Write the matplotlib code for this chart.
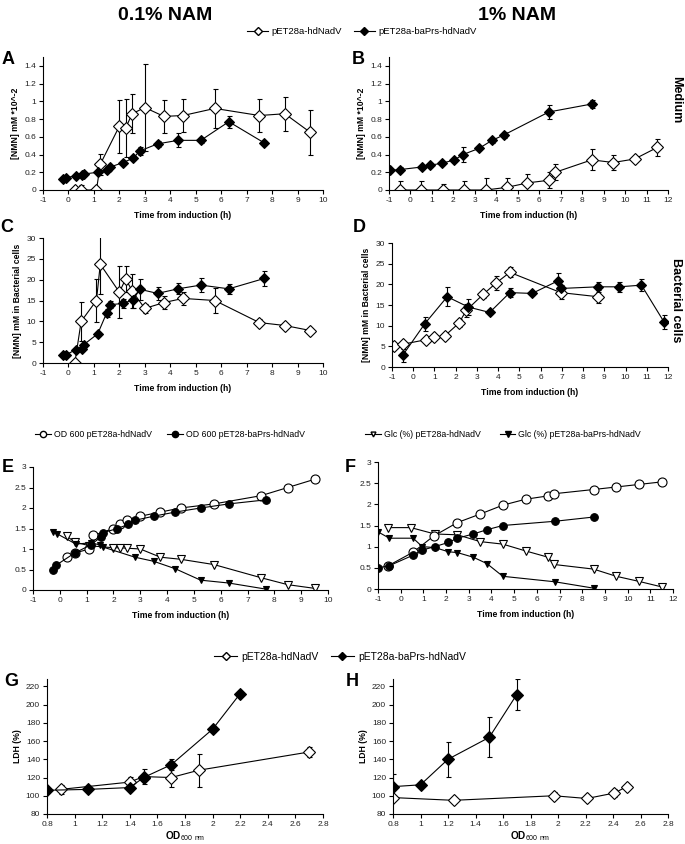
import matplotlib
matplotlib.use("Agg")
import matplotlib.pyplot as plt
from matplotlib.lines import Line2D
from matplotlib.ticker import FuncFormatter, MultipleLocator

plt.rcParams['font.family'] = ['Liberation Sans', 'DejaVu Sans']
plt.rcParams['mathtext.fontset'] = 'custom'
plt.rcParams['mathtext.rm'] = 'Liberation Sans'
plt.rcParams['mathtext.bf'] = 'Liberation Sans:bold'

# ---------------- data ----------------
# Panel A (0.1% NAM, medium)
A_open_x = [0.25, 0.5, 1.1, 1.25, 2.0, 2.25, 2.5, 3.0, 3.75, 4.5, 5.75, 7.5, 8.5, 9.5]
A_open_y = [0, 0, 0, 0.29, 0.72, 0.70, 0.86, 0.93, 0.83, 0.84, 0.92, 0.84, 0.86, 0.65]
A_open_e = [0, 0.06, 0, 0.12, 0.30, 0.33, 0.22, 0.49, 0.19, 0.19, 0.22, 0.19, 0.19, 0.25]
A_fill_x = [-0.2, -0.1, 0.3, 0.55, 0.6, 1.15, 1.5, 1.65, 2.15, 2.55, 2.8, 3.5, 4.3, 5.2, 6.3, 7.7]
A_fill_y = [0.12, 0.14, 0.16, 0.17, 0.18, 0.20, 0.23, 0.26, 0.31, 0.36, 0.44, 0.52, 0.56, 0.56, 0.77, 0.53]
A_fill_e = [0.01, 0.01, 0.01, 0.01, 0.02, 0.03, 0.02, 0.02, 0.02, 0.02, 0.04, 0.03, 0.08, 0.03, 0.07, 0.02]

# Panel B (1% NAM, medium)
B_open_x = [-0.5, 0.5, 1.5, 2.5, 3.5, 4.5, 5.45, 6.45, 6.75, 8.45, 9.45, 10.45, 11.5]
B_open_y = [0, 0, 0, 0, 0, 0.03, 0.08, 0.11, 0.20, 0.34, 0.31, 0.35, 0.48]
B_open_e = [0.1, 0.1, 0.07, 0.1, 0.13, 0.1, 0.1, 0.09, 0.09, 0.12, 0.09, 0.03, 0.1]
B_fill_x = [-0.95, -0.5, 0.55, 0.9, 1.45, 2.05, 2.45, 3.2, 3.8, 4.35, 6.45, 8.45]
B_fill_y = [0.22, 0.23, 0.26, 0.28, 0.30, 0.34, 0.40, 0.47, 0.56, 0.62, 0.88, 0.97]
B_fill_e = [0.02, 0.03, 0.02, 0.02, 0.02, 0.02, 0.08, 0.02, 0.03, 0.03, 0.08, 0.05]

# Panel C (0.1% NAM, bacterial cells)
C_open_x = [0.25, 0.5, 1.1, 1.25, 2.0, 2.25, 2.5, 3.0, 3.75, 4.5, 5.75, 7.5, 8.5, 9.5]
C_open_y = [0, 10, 15, 23.7, 17, 20.2, 17.3, 13.1, 14.5, 15.5, 15, 9.7, 9, 7.8]
C_open_e = [0, 4.6, 5.2, 7.2, 6.3, 3.1, 4, 1, 1.6, 1.5, 3, 0.8, 0.5, 0.5]
C_fill_x = [-0.2, -0.1, 0.3, 0.55, 0.6, 1.15, 1.5, 1.65, 2.15, 2.55, 2.8, 3.5, 4.3, 5.2, 6.3, 7.7]
C_fill_y = [2, 2, 3.2, 3.4, 4.4, 7, 12, 14, 14.3, 15.2, 17.7, 16.7, 17.8, 18.7, 17.8, 20.3]
C_fill_e = [0.3, 0.3, 0.3, 0.4, 0.5, 0.5, 1, 0.8, 1, 2, 2.5, 1.5, 1.3, 1.6, 1.2, 1.8]

# Panel D (1% NAM, bacterial cells)
D_open_x = [-0.9, -0.5, 0.6, 1.0, 1.5, 2.15, 2.5, 3.3, 3.9, 4.55, 6.95, 8.7]
D_open_y = [5, 5.5, 6.6, 7.2, 7.6, 10.6, 13.7, 17.6, 20.3, 22.9, 18, 17]
D_open_e = [0.3, 0.5, 0.3, 0.3, 0.3, 1.0, 1.5, 0.8, 1.6, 1.2, 1.5, 1.6]
D_fill_x = [-0.5, 0.55, 1.6, 2.6, 3.6, 4.55, 5.6, 6.8, 6.95, 8.7, 9.7, 10.75, 11.8]
D_fill_y = [2.8, 10.5, 17, 14.5, 13.2, 18, 17.8, 20.8, 19, 19.4, 19.4, 19.8, 11]
D_fill_e = [1.6, 1.7, 2.3, 2, 0.3, 1, 0.3, 2, 0.8, 1.2, 1.2, 1.4, 1.7]

# Panel E (0.1% NAM growth / glucose)
E_od_open_x = [0.25, 0.55, 1.1, 1.25, 2.0, 2.25, 2.5, 3.0, 3.75, 4.5, 5.75, 7.5, 8.5, 9.5]
E_od_open_y = [0.8, 0.9, 1.0, 1.33, 1.5, 1.6, 1.7, 1.8, 1.9, 2.0, 2.1, 2.3, 2.5, 2.7]
E_od_fill_x = [-0.25, -0.15, 0.55, 1.15, 1.55, 1.62, 2.15, 2.55, 2.8, 3.5, 4.3, 5.25, 6.3, 7.7]
E_od_fill_y = [0.5, 0.6, 0.9, 1.1, 1.3, 1.4, 1.5, 1.6, 1.7, 1.8, 1.9, 2.0, 2.1, 2.2]
E_glc_open_x = [0.25, 0.55, 1.1, 2.0, 2.25, 2.5, 3.0, 3.75, 4.5, 5.75, 7.5, 8.5, 9.5]
E_glc_open_y = [1.32, 1.17, 1.08, 1.03, 1.03, 1.02, 1.0, 0.8, 0.75, 0.62, 0.3, 0.13, 0.04]
E_glc_fill_x = [-0.25, -0.1, 0.6, 1.15, 1.5, 1.6, 2.8, 3.5, 4.3, 5.25, 6.3, 7.7]
E_glc_fill_y = [1.42, 1.37, 1.12, 1.15, 1.1, 1.05, 0.8, 0.7, 0.52, 0.24, 0.17, 0.02]

# Panel F (1% NAM growth / glucose)
F_od_open_x = [-0.55, 0.55, 1.45, 2.5, 3.5, 4.5, 5.5, 6.5, 6.75, 8.5, 9.5, 10.5, 11.5]
F_od_open_y = [0.55, 0.87, 1.25, 1.57, 1.77, 1.98, 2.12, 2.2, 2.25, 2.35, 2.41, 2.47, 2.53]
F_od_fill_x = [-1.0, -0.5, 0.55, 0.95, 1.5, 2.1, 2.5, 3.2, 3.8, 4.5, 6.8, 8.5]
F_od_fill_y = [0.5, 0.55, 0.8, 0.92, 1.0, 1.1, 1.2, 1.3, 1.4, 1.5, 1.6, 1.7]
F_glc_open_x = [-0.55, 0.45, 1.5, 2.5, 3.5, 4.5, 5.5, 6.5, 6.75, 8.5, 9.5, 10.5, 11.5]
F_glc_open_y = [1.45, 1.45, 1.3, 1.28, 1.12, 1.06, 0.9, 0.75, 0.58, 0.47, 0.3, 0.18, 0.05]
F_glc_fill_x = [-1.0, -0.5, 0.55, 0.95, 1.5, 2.1, 2.5, 3.2, 3.8, 4.5, 6.8, 8.5]
F_glc_fill_y = [1.35, 1.2, 1.2, 1.0, 0.98, 0.88, 0.86, 0.75, 0.6, 0.3, 0.17, 0.02]

# Panel G (0.1% NAM, LDH)
G_open_x = [0.9, 1.4, 1.5, 1.7, 1.9, 2.7]
G_open_y = [107, 115, 121, 120, 128, 148]
G_open_e = [5, 6, 8, 10, 18, 6]
G_fill_x = [0.8, 1.1, 1.4, 1.5, 1.7, 2.0, 2.2]
G_fill_y = [106, 107, 109, 120, 134, 173, 212]
G_fill_e = [3, 2, 2, 2, 6, 3, 2]

# Panel H (1% NAM, LDH)
H_open_x = [0.8, 1.24, 1.97, 2.21, 2.41, 2.5]
H_open_y = [98, 95, 100, 97, 103, 110]
H_open_e = [2, 2, 4, 2, 4, 2]
H_fill_x = [0.8, 1.0, 1.2, 1.5, 1.7]
H_fill_y = [110, 112, 140, 164, 211]
H_fill_e = [14, 2, 19, 22, 17]

label_open = 'pET28a-hdNadV'
label_fill = 'pET28a-baPrs-hdNadV'
time_label = 'Time from induction (h)'

# ---------------- figure ----------------
W, H = 685, 844
fig = plt.figure(figsize=(W / 100, H / 100), dpi=100)


def add_ax(l, r, t, b):
    return fig.add_axes([l / W, 1 - b / H, (r - l) / W, (b - t) / H])


fmt = FuncFormatter(lambda v, p: '%g' % round(v, 3))
TICK_FS = 6
LAB_FS = 6.2


def style(ax, xlim, ylim, xstep, ystep, ymax_tick=None):
    ax.set_xlim(*xlim)
    ax.set_ylim(*ylim)
    ax.xaxis.set_major_locator(MultipleLocator(xstep))
    ax.yaxis.set_major_locator(MultipleLocator(ystep))
    ax.xaxis.set_major_formatter(fmt)
    ax.yaxis.set_major_formatter(fmt)
    for s in ['top', 'right']:
        ax.spines[s].set_visible(False)
    for s in ['left', 'bottom']:
        ax.spines[s].set_linewidth(0.8)
    ax.tick_params(direction='out', length=3, width=0.8, labelsize=TICK_FS,
                   pad=2, labelcolor='#222222')
    if ymax_tick is not None:
        ticks = [t for t in ax.get_yticks() if t <= ymax_tick + 1e-9 and t >= ylim[0] - 1e-9]
        ax.set_yticks(ticks)


def series(ax, x, y, e, filled, ms):
    kw = dict(color='black', lw=0.8, marker='D', ms=ms, mec='black', mew=0.8,
              mfc='black' if filled else 'white', ecolor='black', elinewidth=0.8,
              capsize=1.8, capthick=0.8)
    ax.errorbar(x, y, yerr=e, **kw)


def line(ax, x, y, marker, filled, ms):
    ax.plot(x, y, color='black', lw=0.8, marker=marker, ms=ms, mec='black', mew=0.8,
            mfc='black' if filled else 'white')


# A
axA = add_ax(43, 323, 57, 190)
series(axA, A_open_x, A_open_y, A_open_e, False, 6)
series(axA, A_fill_x, A_fill_y, A_fill_e, True, 5)
style(axA, (-1, 10), (0, 1.5), 1, 0.2, 1.4)
axA.set_ylabel('[NMN] mM *10^-2', fontsize=LAB_FS, fontweight='bold', labelpad=3)
axA.set_xlabel(time_label, fontsize=LAB_FS, fontweight='bold', labelpad=5)

# B
axB = add_ax(389, 668, 57, 190)
series(axB, B_open_x, B_open_y, B_open_e, False, 6)
series(axB, B_fill_x, B_fill_y, B_fill_e, True, 5)
style(axB, (-1, 12), (0, 1.5), 1, 0.2, 1.4)
axB.set_ylabel('[NMN] mM *10^-2', fontsize=LAB_FS, fontweight='bold', labelpad=3)
axB.set_xlabel(time_label, fontsize=LAB_FS, fontweight='bold', labelpad=5)

# C
axC = add_ax(43, 323, 238, 363)
series(axC, C_open_x, C_open_y, C_open_e, False, 6)
series(axC, C_fill_x, C_fill_y, C_fill_e, True, 5)
style(axC, (-1, 10), (0, 30), 1, 5)
axC.set_ylabel('[NMN] mM in Bacterial cells', fontsize=LAB_FS, fontweight='bold', labelpad=3)
axC.set_xlabel(time_label, fontsize=LAB_FS, fontweight='bold', labelpad=5)

# D
axD = add_ax(392, 668, 243, 367)
series(axD, D_open_x, D_open_y, D_open_e, False, 6)
series(axD, D_fill_x, D_fill_y, D_fill_e, True, 5)
style(axD, (-1, 12), (0, 30), 1, 5)
axD.set_ylabel('[NMN] mM in Bacterial cells', fontsize=LAB_FS, fontweight='bold', labelpad=3)
axD.set_xlabel(time_label, fontsize=LAB_FS, fontweight='bold', labelpad=5)

# E
axE = add_ax(33, 328, 467, 590)
line(axE, E_glc_open_x, E_glc_open_y, 'v', False, 6)
line(axE, E_glc_fill_x, E_glc_fill_y, 'v', True, 5)
line(axE, E_od_open_x, E_od_open_y, 'o', False, 6.5)
line(axE, E_od_fill_x, E_od_fill_y, 'o', True, 5.5)
style(axE, (-1, 10), (0, 3), 1, 0.5)
axE.set_xlabel(time_label, fontsize=LAB_FS, fontweight='bold', labelpad=5)

# F
axF = add_ax(378, 673, 462, 589)
line(axF, F_glc_open_x, F_glc_open_y, 'v', False, 6)
line(axF, F_glc_fill_x, F_glc_fill_y, 'v', True, 5)
line(axF, F_od_open_x, F_od_open_y, 'o', False, 6.5)
line(axF, F_od_fill_x, F_od_fill_y, 'o', True, 5.5)
style(axF, (-1, 12), (0, 3), 1, 0.5)
axF.set_xlabel(time_label, fontsize=LAB_FS, fontweight='bold', labelpad=5)

# G
axG = add_ax(47, 323, 679, 814)
series(axG, G_open_x, G_open_y, G_open_e, False, 6)
series(axG, G_fill_x, G_fill_y, G_fill_e, True, 6.5)
style(axG, (0.8, 2.8), (80, 228), 0.2, 20, 220)
axG.set_ylabel('LDH (%)', fontsize=LAB_FS, fontweight='bold', labelpad=3)
axG.set_xlabel(r'$\mathbf{OD}_{\mathrm{600\ nm}}$', fontsize=7.2, labelpad=1)

# H
axH = add_ax(393, 668, 679, 814)
series(axH, H_open_x, H_open_y, H_open_e, False, 6)
series(axH, H_fill_x, H_fill_y, H_fill_e, True, 6.5)
style(axH, (0.8, 2.8), (80, 228), 0.2, 20, 220)
axH.set_ylabel('LDH (%)', fontsize=LAB_FS, fontweight='bold', labelpad=3)
axH.set_xlabel(r'$\mathbf{OD}_{\mathrm{600\ nm}}$', fontsize=7.2, labelpad=1)

# panel letters
for lab, (px, py) in {'A': (8, 60), 'B': (358, 60), 'C': (7, 228), 'D': (359, 228),
                      'E': (8, 468), 'F': (350, 467), 'G': (11, 682), 'H': (352, 682)}.items():
    fig.text(px / W, 1 - py / H, lab, fontsize=13, fontweight='bold', ha='center', va='center')

# column headers
fig.text(165 / W, 1 - 15 / H, '0.1% NAM', fontsize=14, fontweight='bold', ha='center', va='center')
fig.text(517 / W, 1 - 15 / H, '1% NAM', fontsize=14, fontweight='bold', ha='center', va='center')

# side labels
fig.text(676 / W, 1 - 100 / H, 'Medium', fontsize=9, fontweight='bold', rotation=-90,
         ha='center', va='center')
fig.text(676 / W, 1 - 300 / H, 'Bacterial cells', fontsize=9, fontweight='bold', rotation=-90,
         ha='center', va='center')

# legends
h_open = Line2D([], [], color='black', lw=0.8, marker='D', ms=4, mfc='white', mec='black')
h_fill = Line2D([], [], color='black', lw=0.8, marker='D', ms=4, mfc='black', mec='black')
fig.legend([h_open, h_fill], [label_open, label_fill], loc='center',
           bbox_to_anchor=(362 / W, 1 - 32 / H), ncol=2, frameon=False, fontsize=6.8,
           handlelength=2.2, handletextpad=0.4, columnspacing=1.2)
fig.legend([h_open, h_fill], [label_open, label_fill], loc='center',
           bbox_to_anchor=(340 / W, 1 - 657 / H), ncol=2, frameon=False, fontsize=7.5,
           handlelength=2.2, handletextpad=0.4, columnspacing=1.2)

h_od_o = Line2D([], [], color='black', lw=0.8, marker='o', ms=4.5, mfc='white', mec='black')
h_od_f = Line2D([], [], color='black', lw=0.8, marker='o', ms=4.5, mfc='black', mec='black')
fig.legend([h_od_o, h_od_f], ['OD 600 pET28a-hdNadV', 'OD 600 pET28-baPrs-hdNadV'], loc='center',
           bbox_to_anchor=(170 / W, 1 - 435 / H), ncol=2, frameon=False, fontsize=6.3,
           handlelength=1.8, handletextpad=0.3, columnspacing=1.8)
h_g_o = Line2D([], [], color='black', lw=0.8, marker='v', ms=3.5, mfc='white', mec='black')
h_g_f = Line2D([], [], color='black', lw=0.8, marker='v', ms=4, mfc='black', mec='black')
fig.legend([h_g_o, h_g_f], ['Glc (%) pET28a-hdNadV', 'Glc (%) pET28a-baPrs-hdNadV'], loc='center',
           bbox_to_anchor=(503 / W, 1 - 435 / H), ncol=2, frameon=False, fontsize=6.3,
           handlelength=1.8, handletextpad=0.3, columnspacing=2.2)

fig.savefig('out.png', dpi=100)
